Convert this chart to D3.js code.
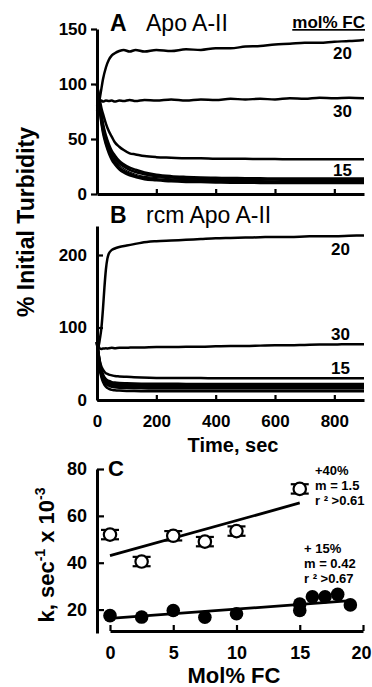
<!DOCTYPE html>
<html>
<head>
<meta charset="utf-8">
<script src="https://cdn.jsdelivr.net/npm/d3@7/dist/d3.min.js"></script>
<style>
  html, body { margin: 0; padding: 0; background: #fff; }
  svg { display: block; }
  text { font-family: "Liberation Sans", Arial, sans-serif; fill: #000; }
</style>
</head>
<body>
<div id="chart"></div>
<script>
// ---- panel A: Apo A-II turbidity (% initial) vs time, sec
const timeA = [0, 5, 10, 15, 20, 30, 40, 50, 60, 75, 90, 110, 130, 160, 200, 250, 300, 350, 400, 450, 500, 550, 600, 650, 700, 750, 800, 850, 900];
const a20 = [75, 80, 88, 96, 104, 115, 122, 126, 128, 130, 131, 129.5, 131, 129.5, 131, 130, 131.5, 131, 132.5, 132.5, 134, 134.5, 136, 136.5, 137.5, 137.5, 138.5, 139, 140];
const a30 = [80, 83, 84, 85, 84, 85, 84.5, 85, 84, 85, 84.5, 85.5, 84.5, 85.5, 85, 86, 85, 86, 85.5, 86.5, 86, 86.5, 86, 87, 86.5, 87.5, 87, 87.5, 87];
const a15 = [100, 92, 85, 78, 73, 64, 57, 52, 47, 43, 40, 37, 36, 34.5, 33.5, 33, 32.5, 32.5, 32, 32, 32, 31.8, 31.8, 31.6, 31.6, 31.5, 31.5, 31.5, 31.5];
const aLow1 = [100, 85, 74, 64, 56, 45, 37, 31, 27, 22.5, 19.5, 17, 15.5, 13.5, 12.5, 11.5, 11, 10.8, 10.5, 10.3, 10.2, 10.1, 10, 10, 10, 10, 10, 10, 10];
const aLow2 = [100, 86, 76, 66, 58, 47, 39, 33, 29, 24, 21, 18.5, 16.5, 15, 13.5, 12.5, 12, 11.8, 11.5, 11.3, 11.2, 11.1, 11, 11, 11, 11, 11, 11, 11];
const aLow3 = [100, 87, 77, 68, 60, 49, 41, 35, 31, 26, 23, 20, 18, 16, 14.8, 13.8, 13.2, 12.8, 12.5, 12.3, 12.2, 12.1, 12, 12, 12, 12, 12, 12, 12];
const aLow4 = [100, 88, 79, 70, 62, 51, 43, 37, 33, 28, 25, 22, 20, 18, 16.2, 15, 14.3, 13.9, 13.6, 13.4, 13.3, 13.2, 13.1, 13, 13, 13, 13, 13, 13];
const aLow5 = [100, 89, 80, 72, 64, 53, 45, 39, 35, 30, 27, 24, 22, 19.5, 17.5, 16.2, 15.5, 15, 14.7, 14.5, 14.3, 14.2, 14.1, 14, 14, 14, 14, 14, 14];

// ---- panel B: rcm Apo A-II
const timeB = [0, 5, 10, 15, 20, 25, 30, 35, 40, 50, 60, 75, 100, 125, 150, 200, 250, 300, 350, 400, 450, 500, 550, 600, 650, 700, 750, 800, 850, 900];
const b20 = [72, 74, 85, 100, 125, 155, 180, 195, 202, 207, 209, 211, 213, 215, 217, 219, 220, 221, 222, 223, 223.5, 224, 224.5, 225, 225, 225.5, 226, 226, 226.5, 227];
const b30 = [80, 74, 71, 70.5, 71, 71, 71.5, 71, 71.5, 72, 71.5, 72, 72, 72.5, 72.5, 73, 73, 73.5, 73.5, 74, 74.5, 74.5, 75, 75.5, 75.5, 76, 76.5, 76.5, 77, 77];
const b15 = [80, 64, 53, 46, 42, 39, 37, 36, 35, 34, 33, 32.5, 32, 31.5, 31, 30.5, 30.5, 30.3, 30.2, 30.1, 30, 30, 30, 30, 30, 30, 30, 30, 30, 30];
const bLow1 = [80, 55, 40, 31, 25, 21, 18.5, 16.5, 15.5, 14, 13.5, 13, 12.5, 12.3, 12.2, 12, 12, 12, 12, 12, 12, 12, 12, 12, 12, 12, 12, 12, 12, 12];
const bLow2 = [80, 58, 44, 35, 29, 25, 22.5, 21, 20, 18.5, 17.8, 17.2, 16.8, 16.5, 16.3, 16.2, 16.1, 16, 16, 16, 16, 16, 16, 16, 16, 16, 16, 16, 16, 16];
const bLow3 = [80, 60, 46, 37, 31, 27, 24.5, 23, 22, 20.5, 19.8, 19.2, 18.8, 18.5, 18.3, 18.2, 18.1, 18, 18, 18, 18, 18, 18, 18, 18, 18, 18, 18, 18, 18];
const bLow4 = [80, 62, 48, 39, 33, 29, 26.5, 25, 24, 22.5, 21.8, 21.2, 20.8, 20.5, 20.3, 20.2, 20.1, 20, 20, 20, 20, 20, 20, 20, 20, 20, 20, 20, 20, 20];
const bLow5 = [80, 64, 50, 41, 35, 31, 28.5, 27, 26, 24.5, 23.8, 23.2, 22.8, 22.5, 22.3, 22.2, 22.1, 22, 22, 22, 22, 22, 22, 22, 22, 22, 22, 22, 22, 22];

// curve end labels (mol% FC)
const labelsA = [{ text: "20", v: 140 }, { text: "30", v: 87 }, { text: "15", v: 31.5 }];
const labelsB = [{ text: "20", v: 227 }, { text: "30", v: 77 }, { text: "15", v: 30 }];

// ---- panel C: rate constant k vs mol% FC
const fcOpen = [0, 2.5, 5, 7.5, 10, 15];
const kOpen = [52, 40.5, 51.5, 49, 53.5, 71.5];
const kOpenErr = [2, 2, 2, 2, 2, 2];
const fcFilled = [0, 2.5, 5, 7.5, 10, 15, 15, 16, 17, 18, 19];
const kFilled = [17.4, 16.8, 19.6, 16.7, 18.2, 22.4, 19.6, 25.5, 25.5, 26.5, 22];
const fitOpenX = [0, 15];
const fitOpenY = [43, 65.5];
const fitFilledX = [0, 19];
const fitFilledY = [16.2, 23.8];
const notesOpen = ["+40%", "m = 1.5", "r \u00b2 >0.61"];
const notesFilled = ["+ 15%", "m = 0.42", "r \u00b2 >0.67"];

const W = 372, H = 687;
const svg = d3.select("#chart").append("svg")
  .attr("width", W).attr("height", H)
  .attr("viewBox", `0 0 ${W} ${H}`);
svg.append("rect").attr("width", W).attr("height", H).attr("fill", "#fff");

const x = d3.scaleLinear().domain([0, 900]).range([97, 364]);
const yA = d3.scaleLinear().domain([0, 150]).range([194, 29]);
const yB = d3.scaleLinear().domain([0, 240]).range([400, 226]);

function styleAxis(g, fontSize) {
  g.select(".domain").attr("stroke", "#000").attr("stroke-width", 3);
  g.selectAll(".tick line").attr("stroke", "#000").attr("stroke-width", 2.2);
  g.selectAll(".tick text")
    .attr("font-size", fontSize)
    .attr("font-weight", "bold")
    .attr("font-family", "Liberation Sans, Arial, sans-serif")
    .attr("fill", "#000");
}

function drawCurves(g, times, series, yScale, widths) {
  const line = d3.line()
    .x((d, i) => x(times[i]))
    .y(d => yScale(d))
    .curve(d3.curveMonotoneX);
  series.forEach((s, i) => {
    g.append("path")
      .attr("d", line(s))
      .attr("fill", "none")
      .attr("stroke", "#000")
      .attr("stroke-width", widths[i])
      .attr("stroke-linejoin", "round");
  });
}

// ---------- panel A
const gA = svg.append("g");
drawCurves(gA, timeA, [a20, a30, a15, aLow1, aLow2, aLow3, aLow4, aLow5], yA,
  [2.5, 2.5, 2.5, 2.5, 2.5, 1.2, 2.5, 2.6]);

gA.append("g").attr("transform", "translate(97,0)")
  .call(d3.axisLeft(yA).tickValues([0, 50, 100, 150]).tickSize(6).tickSizeOuter(0).tickPadding(4))
  .call(g => styleAxis(g, 17));
gA.append("g").attr("transform", "translate(0,194)")
  .call(d3.axisBottom(x).tickValues([200, 400, 600, 800]).tickSize(-5).tickSizeOuter(0).tickFormat(""))
  .call(g => styleAxis(g, 17));

gA.append("text").attr("x", 110).attr("y", 31)
  .attr("font-size", 23).attr("font-weight", "bold").text("A");
gA.append("text").attr("x", 146).attr("y", 31)
  .attr("font-size", 23).text("Apo A-II");
gA.append("text").attr("x", 365).attr("y", 28)
  .attr("text-anchor", "end").attr("font-size", 17).attr("font-weight", "bold")
  .style("text-decoration", "underline").text("mol% FC");
gA.selectAll("text.lab").data(labelsA).join("text")
  .attr("class", "lab")
  .attr("x", 352)
  .attr("y", (d, i) => i === 2 ? yA(d.v) + 17 : yA(d.v) + 19)
  .attr("text-anchor", "end").attr("font-size", 17).attr("font-weight", "bold")
  .text(d => d.text);

// ---------- panel B
const gB = svg.append("g");
drawCurves(gB, timeB, [b20, b30, b15, bLow1, bLow2, bLow3, bLow4, bLow5], yB,
  [2.5, 2.5, 2.5, 2.5, 2.8, 2.8, 2.8, 2.8]);

gB.append("g").attr("transform", "translate(97,0)")
  .call(d3.axisLeft(yB).tickValues([0, 100, 200]).tickSize(-6).tickSizeOuter(0).tickPadding(10))
  .call(g => styleAxis(g, 17));
gB.append("g").attr("transform", "translate(0,400)")
  .call(d3.axisBottom(x).tickValues([0, 200, 400, 600, 800]).tickSize(-5).tickSizeOuter(0).tickPadding(15))
  .call(g => styleAxis(g, 17));

gB.append("text").attr("x", 110).attr("y", 223)
  .attr("font-size", 23).attr("font-weight", "bold").text("B");
gB.append("text").attr("x", 146).attr("y", 223)
  .attr("font-size", 23).text("rcm Apo A-II");
gB.selectAll("text.lab").data(labelsB).join("text")
  .attr("class", "lab")
  .attr("x", 350)
  .attr("y", (d, i) => i === 0 ? yB(d.v) + 20 : yB(d.v) - 4)
  .attr("text-anchor", "end").attr("font-size", 17).attr("font-weight", "bold")
  .text(d => d.text);

svg.append("text").attr("x", 233).attr("y", 452)
  .attr("text-anchor", "middle").attr("font-size", 20).attr("font-weight", "bold")
  .text("Time, sec");

svg.append("text")
  .attr("transform", "translate(34,222) rotate(-90)")
  .attr("text-anchor", "middle").attr("font-size", 23).attr("font-weight", "bold")
  .text("% Initial Turbidity");

// ---------- panel C
const xC = d3.scaleLinear().domain([0, 20]).range([110, 363]);
const yC = d3.scaleLinear().domain([10, 80]).range([633, 469]);
const gC = svg.append("g");

gC.append("g").attr("transform", "translate(97,0)")
  .call(d3.axisLeft(yC).tickValues([20, 40, 60, 80]).tickSize(-7).tickSizeOuter(0).tickPadding(10))
  .call(g => styleAxis(g, 18));
gC.append("g").attr("transform", "translate(0,631)")
  .call(d3.axisBottom(xC).tickValues([0, 5, 10, 15, 20]).tickSize(-6).tickSizeOuter(0).tickPadding(15))
  .call(g => styleAxis(g, 18))
  // last label sits at the window edge; nudge it so it stays readable
  .call(g => g.selectAll(".tick text").filter(d => d === 20).attr("dx", -2));

const fitLine = d3.line().x(d => xC(d[0])).y(d => yC(d[1]));
gC.append("path").attr("d", fitLine(d3.zip(fitOpenX, fitOpenY)))
  .attr("stroke", "#000").attr("stroke-width", 2.8).attr("fill", "none");
gC.append("path").attr("d", fitLine(d3.zip(fitFilledX, fitFilledY)))
  .attr("stroke", "#000").attr("stroke-width", 2.8).attr("fill", "none");

const openPts = fcOpen.map((fc, i) => ({ fc, k: kOpen[i], e: kOpenErr[i] }));
const capW = 9;
openPts.forEach(p => {
  [p.k - p.e, p.k + p.e].forEach(v => {
    gC.append("line")
      .attr("x1", xC(p.fc) - capW).attr("x2", xC(p.fc) + capW)
      .attr("y1", yC(v)).attr("y2", yC(v))
      .attr("stroke", "#000").attr("stroke-width", 2.2);
  });
});
gC.selectAll("circle.open").data(openPts).join("circle")
  .attr("class", "open")
  .attr("cx", d => xC(d.fc)).attr("cy", d => yC(d.k)).attr("r", 6.2)
  .attr("fill", "#fff").attr("stroke", "#000").attr("stroke-width", 2.2);

gC.selectAll("circle.filled").data(d3.zip(fcFilled, kFilled)).join("circle")
  .attr("class", "filled")
  .attr("cx", d => xC(d[0])).attr("cy", d => yC(d[1])).attr("r", 6.8)
  .attr("fill", "#000");

gC.append("text").attr("x", 108).attr("y", 476)
  .attr("font-size", 22).attr("font-weight", "bold").text("C");

gC.selectAll("text.nO").data(notesOpen).join("text")
  .attr("class", "nO").attr("x", 315).attr("y", (d, i) => 475 + i * 15)
  .attr("font-size", 13).attr("font-weight", "bold").text(d => d);
gC.selectAll("text.nF").data(notesFilled).join("text")
  .attr("class", "nF").attr("x", 304).attr("y", (d, i) => 553 + i * 15)
  .attr("font-size", 13).attr("font-weight", "bold").text(d => d);

const kLab = svg.append("text")
  .attr("transform", "translate(54,555) rotate(-90)")
  .attr("text-anchor", "middle").attr("font-size", 22).attr("font-weight", "bold");
kLab.append("tspan").text("k, sec");
kLab.append("tspan").attr("font-size", 14).attr("dy", -9).text("-1");
kLab.append("tspan").attr("dy", 9).text(" x 10");
kLab.append("tspan").attr("font-size", 14).attr("dy", -9).text("-3");

svg.append("text").attr("x", 234).attr("y", 683)
  .attr("text-anchor", "middle").attr("font-size", 22).attr("font-weight", "bold")
  .text("Mol% FC");
</script>
</body>
</html>
